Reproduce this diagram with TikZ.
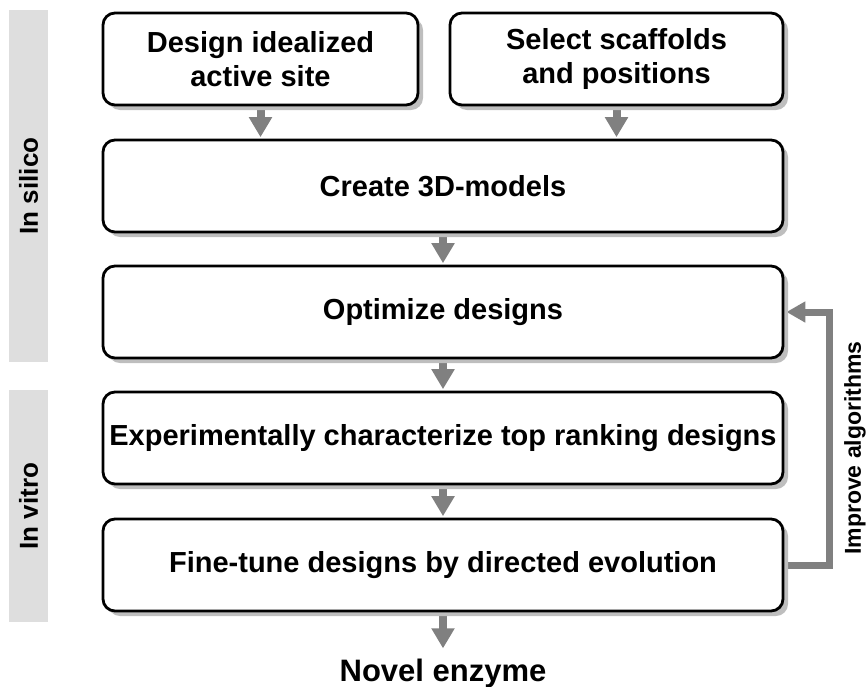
\documentclass[tikz,border=0pt]{standalone}
\usepackage{fontspec}
\setmainfont{Liberation Sans}
\usetikzlibrary{arrows.meta,shadows}
\definecolor{flowgrey}{HTML}{808080}
\definecolor{shadowgrey}{HTML}{BEBEBE}
\definecolor{bargrey}{HTML}{DEDEDE}
\pgfdeclarelayer{bg}
\pgfsetlayers{bg,main}
\tikzset{
  stagebox/.style={draw=black, line width=2.8pt, rounded corners=12pt, fill=white,
    inner sep=0pt, align=center,
    font=\fontsize{29}{34.5}\selectfont\bfseries,
    drop shadow={shadow xshift=5pt, shadow yshift=-5pt, fill=shadowgrey, opacity=1}},
  phasebar/.style={fill=bargrey, rotate=90, inner sep=0pt, minimum height=39pt,
    font=\fontsize{26}{30}\selectfont\bfseries},
  flow/.style={draw=flowgrey, line width=8pt, line join=miter,
    -{Triangle[width=22pt,length=20pt]}},
}
\begin{document}
\begin{tikzpicture}[x=1pt,y=-1pt]
\useasboundingbox (0,0) rectangle (867,686);

% phase bars on the left
\node[phasebar, minimum width=352pt] (silico) at (28.5,186) {In silico};
\node[phasebar, minimum width=232pt] (vitro) at (28.5,506) {In vitro};

% workflow stages
\node[stagebox, minimum width=315pt, minimum height=92pt] (design) at (260.5,59)
  {Design idealized\\active site};
\node[stagebox, minimum width=333pt, minimum height=92pt] (select) at (616.5,59)
  {Select scaffolds\\and positions};
\node[stagebox, minimum width=680pt, minimum height=92pt] (create) at (443,186)
  {Create 3D-models};
\node[stagebox, minimum width=680pt, minimum height=92pt] (optimize) at (443,312)
  {Optimize designs};
\node[stagebox, minimum width=680pt, minimum height=92pt] (exper) at (443,438)
  {Experimentally characterize top ranking designs};
\node[stagebox, minimum width=680pt, minimum height=92pt] (finetune) at (443,565)
  {Fine-tune designs by directed evolution};

\node[inner sep=0pt, font=\fontsize{31}{36}\selectfont\bfseries] (novel) at (443,673)
  {Novel enzyme};
\node[rotate=90, inner sep=0pt, font=\fontsize{23}{27}\selectfont\bfseries] (improve)
  at (855,448) {Improve algorithms};

% connectors
\begin{pgfonlayer}{bg}
\draw[flow] (design.south) -- ([yshift=1.4pt]design.south |- create.north);
\draw[flow] (select.south) -- ([yshift=1.4pt]select.south |- create.north);
\draw[flow] (create.south) -- ([yshift=1.4pt]optimize.north);
\draw[flow] (optimize.south) -- ([yshift=1.4pt]exper.north);
\draw[flow] (exper.south) -- ([yshift=1.4pt]finetune.north);
\draw[flow] (finetune.south) -- ([yshift=10pt]novel.north);
\draw[flow, line width=7pt, -{Triangle[width=20pt,length=19pt]}]
  (finetune.east) -- ++(45,0) |- ([xshift=2pt]optimize.east);
\end{pgfonlayer}
\end{tikzpicture}
\end{document}
